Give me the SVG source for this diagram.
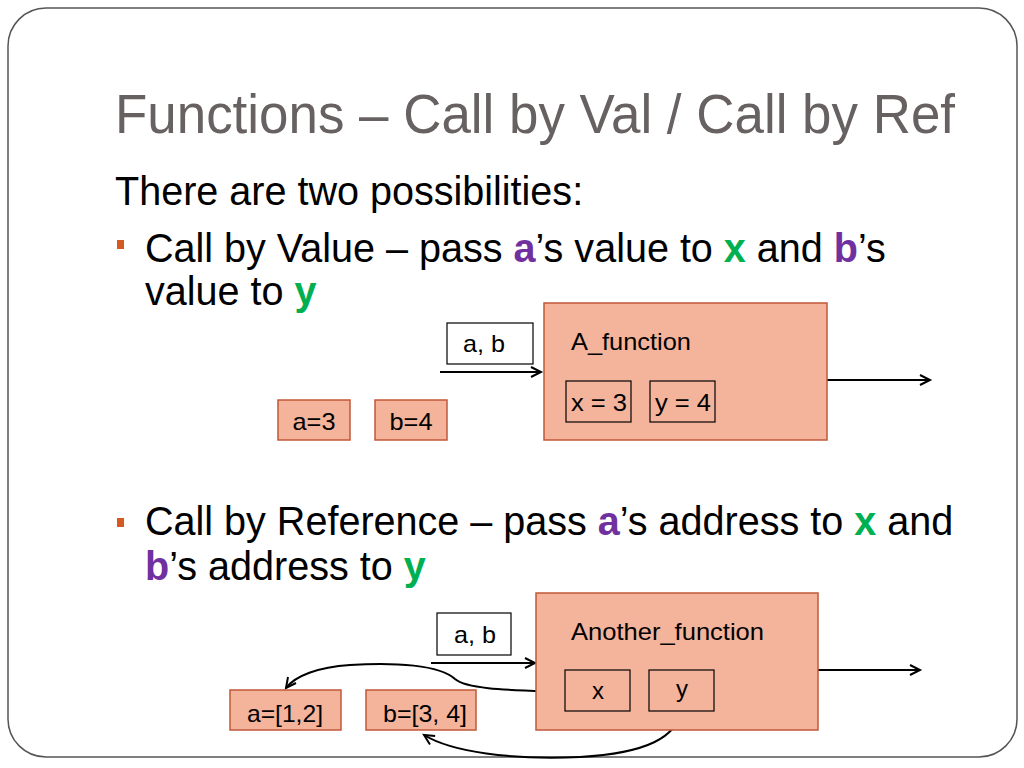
<svg xmlns="http://www.w3.org/2000/svg" width="1024" height="768" viewBox="0 0 1024 768">
<defs>
<style>
.title{font-family:"Liberation Sans",Arial,sans-serif;font-size:56px;fill:#676161}
.body{font-family:"Liberation Sans",Arial,sans-serif;font-size:41px;fill:#000}
.pa{fill:#7030a0;font-weight:bold}
.gx{fill:#00b050;font-weight:bold}
.box{fill:#f4b39b;stroke:#c0583a;stroke-width:1.5}
.wbox{fill:#fff;stroke:#000;stroke-width:1.2}
.ibox{fill:none;stroke:#000;stroke-width:1.2}
.lbl{font-family:"Liberation Sans",Arial,sans-serif;font-size:24px;fill:#000}
.c{text-anchor:middle}
.conn{fill:none;stroke:#000;stroke-width:2}
.bul{fill:#d55a22}
</style>
<marker id="arr" markerUnits="userSpaceOnUse" markerWidth="14" markerHeight="14" refX="11" refY="6" orient="auto">
<path d="M1,1 L11,6 L1,11" fill="none" stroke="#000" stroke-width="2"/>
</marker>
</defs>
<rect width="1024" height="768" fill="#fff"/>
<rect x="8" y="8" width="1009" height="749" rx="38" ry="38" fill="none" stroke="#555" stroke-width="1.5"/>

<text class="title" x="115" y="133" textLength="840" lengthAdjust="spacingAndGlyphs">Functions – Call by Val / Call by Ref</text>

<text class="body" transform="translate(115,205) scale(0.965,1)">There are two possibilities:</text>
<rect class="bul" x="117" y="240" width="7" height="9"/>
<text class="body" transform="translate(145,262) scale(0.965,1)">Call by Value – pass <tspan class="pa">a</tspan>’s value to <tspan class="gx">x</tspan> and <tspan class="pa">b</tspan>’s</text>
<text class="body" transform="translate(145,305) scale(0.965,1)">value to <tspan class="gx">y</tspan></text>

<rect class="bul" x="117" y="518" width="7" height="9"/>
<text class="body" transform="translate(145,535) scale(0.965,1)">Call by Reference – pass <tspan class="pa">a</tspan>’s address to <tspan class="gx">x</tspan> and</text>
<text class="body" transform="translate(145,580) scale(0.965,1)"><tspan class="pa">b</tspan>’s address to <tspan class="gx">y</tspan></text>

<g id="connectors">
<line class="conn" x1="440" y1="372" x2="541" y2="372" marker-end="url(#arr)"/>
<line class="conn" x1="827" y1="380" x2="930" y2="380" marker-end="url(#arr)"/>
<line class="conn" x1="431" y1="663" x2="535" y2="663" marker-end="url(#arr)"/>
<line class="conn" x1="818" y1="670" x2="920" y2="670" marker-end="url(#arr)"/>
<path class="conn" d="M565,692 C515,690 468,690 455,679 C440,665 395,662 350,665 C318,667 295,676 286,688" marker-end="url(#arr)"/>
<path class="conn" d="M681,711 C676,737 648,753 580,757 C510,760 452,752 424,735" marker-end="url(#arr)"/>
</g>

<g id="ab1">
<rect class="wbox" x="447" y="323" width="86" height="41"/>
<text class="lbl c" x="484" y="352" textLength="42" lengthAdjust="spacingAndGlyphs">a, b</text>
</g>
<g id="A_function">
<rect class="box" x="544" y="303" width="283" height="137"/>
<text class="lbl" x="571" y="350" textLength="120" lengthAdjust="spacingAndGlyphs">A_function</text>
</g>
<g id="x3">
<rect class="ibox" x="566" y="381" width="65" height="41"/>
<text class="lbl c" x="599" y="411" textLength="56" lengthAdjust="spacingAndGlyphs">x = 3</text>
</g>
<g id="y4">
<rect class="ibox" x="650" y="381" width="65" height="41"/>
<text class="lbl c" x="683" y="411" textLength="56" lengthAdjust="spacingAndGlyphs">y = 4</text>
</g>
<g id="a3">
<rect class="box" x="278" y="400" width="72" height="40"/>
<text class="lbl c" x="314" y="430" textLength="43" lengthAdjust="spacingAndGlyphs">a=3</text>
</g>
<g id="b4">
<rect class="box" x="375" y="400" width="72" height="40"/>
<text class="lbl c" x="411" y="430" textLength="43" lengthAdjust="spacingAndGlyphs">b=4</text>
</g>

<g id="ab2">
<rect class="wbox" x="437" y="613" width="74" height="42"/>
<text class="lbl c" x="475" y="643" textLength="42" lengthAdjust="spacingAndGlyphs">a, b</text>
</g>
<g id="Another_function">
<rect class="box" x="536" y="593" width="282" height="137"/>
<text class="lbl" x="571" y="640" textLength="193" lengthAdjust="spacingAndGlyphs">Another_function</text>
</g>
<g id="x">
<rect class="ibox" x="565" y="670" width="65" height="41"/>
<text class="lbl c" x="598" y="699">x</text>
</g>
<g id="y">
<rect class="ibox" x="649" y="670" width="65" height="41"/>
<text class="lbl c" x="682" y="697">y</text>
</g>
<g id="a12">
<rect class="box" x="230" y="690" width="111" height="40"/>
<text class="lbl c" x="285" y="722" textLength="76" lengthAdjust="spacingAndGlyphs">a=[1,2]</text>
</g>
<g id="b34">
<rect class="box" x="366" y="690" width="110" height="40"/>
<text class="lbl c" x="425" y="722" textLength="84" lengthAdjust="spacingAndGlyphs">b=[3, 4]</text>
</g>
</svg>
